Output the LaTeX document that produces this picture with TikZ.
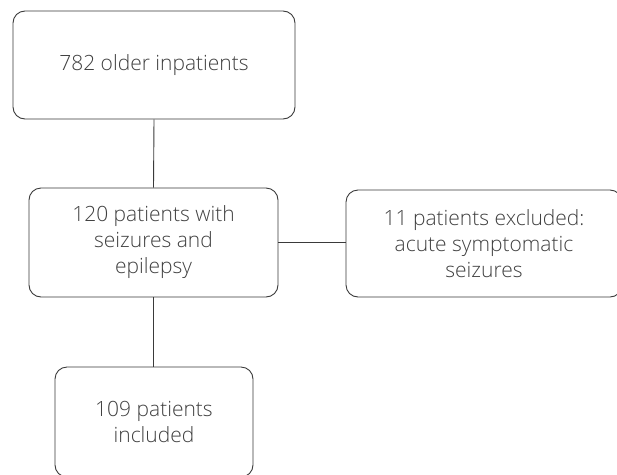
\documentclass[tikz,border=0pt]{standalone}
\usepackage{fontspec}
\setmainfont{Open Sans Light}
\definecolor{linegray}{HTML}{3A3A3A}
\definecolor{textgray}{HTML}{404040}
\begin{document}
\begin{tikzpicture}[x=1pt,y=-1pt,
  flowbox/.style={draw=linegray, line width=0.9pt, rounded corners=12pt,
    text=textgray, align=center, inner sep=0pt,
    font=\fontsize{21}{26}\selectfont},
  link/.style={draw=linegray, line width=0.9pt}]
\useasboundingbox (0,0) rectangle (617,474);
\clip (0,0) rectangle (617,474);
\node[flowbox, minimum width=282pt, minimum height=108pt] (a) at (154,65) {782 older inpatients};
\node[flowbox, minimum width=249pt, minimum height=109pt] (b) at (153.5,242.5) {120 patients with\\seizures and\\epilepsy};
\node[flowbox, minimum width=276pt, minimum height=107pt] (c) at (484,243.5) {11 patients excluded:\\acute symptomatic\\seizures};
\node[flowbox, minimum width=198pt, minimum height=110pt] (d) at (154,422) {109 patients\\included};
\draw[link] (a.south) -- (b.north);
\draw[link] (b.east) -- (b.east -| c.west);
\draw[link] (b.south) -- (b.south |- d.north);
\end{tikzpicture}
\end{document}
